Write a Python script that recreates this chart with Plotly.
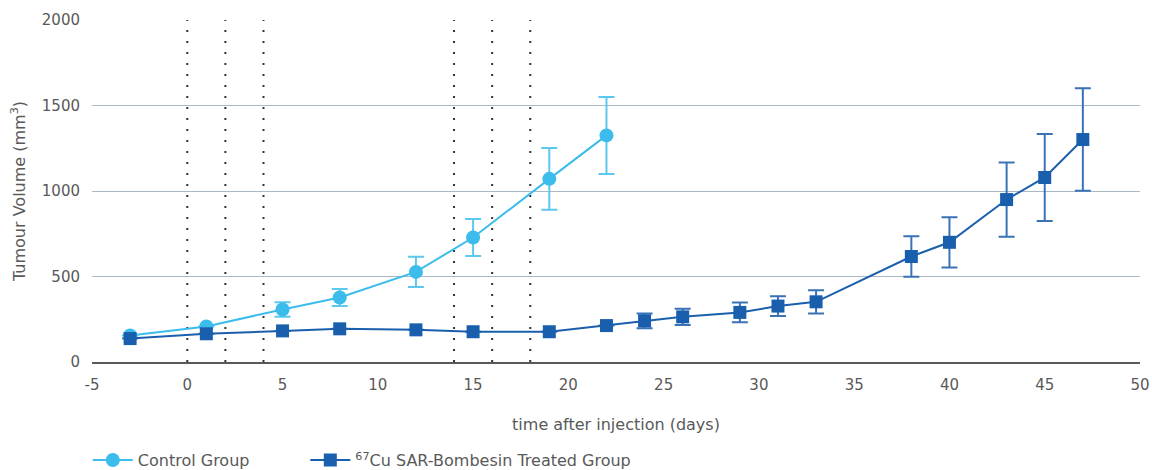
import plotly.graph_objects as go

# Control group
ctrl_days = [-3, 1, 5, 8, 12, 15, 19, 22]
ctrl_vol = [155, 208, 307, 377, 527, 728, 1071, 1325]
ctrl_err = [0, 0, 42, 50, 88, 108, 180, 225]

# 67Cu SAR-Bombesin treated group
trt_days = [-3, 1, 5, 8, 12, 15, 19, 22, 24, 26, 29, 31, 33, 38, 40, 43, 45, 47]
trt_vol = [137, 165, 182, 194, 188, 177, 177, 213, 241, 264, 290, 327, 352, 617, 700, 950, 1079, 1301]
trt_err = [0, 0, 0, 0, 0, 0, 0, 0, 43, 48, 58, 58, 68, 118, 147, 217, 255, 300]

# dosing days (dotted vertical markers)
dose_days = [0, 2, 4, 14, 16, 18]

# axis ticks
x_ticks = [-5, 0, 5, 10, 15, 20, 25, 30, 35, 40, 45, 50]
x_ticklabels = ["-5", "0", "5", "10", "15", "20", "25", "30", "35", "40", "45", "50"]

CTRL = "#3BBCEB"
TRT = "#1A5FAD"
FONT = "'DejaVu Sans', sans-serif"
GREY = "#595959"
NB = "\u00a0"

fig = go.Figure()
fig.add_trace(go.Scatter(
    x=ctrl_days, y=ctrl_vol, mode="lines+markers", name="Control Group" + NB * 10,
    line=dict(color=CTRL, width=2),
    marker=dict(symbol="circle", size=14, color=CTRL),
    error_y=dict(type="data", array=[e if e else None for e in ctrl_err], visible=True,
                 color="#5CC8EE", thickness=2, width=8),
))
fig.add_trace(go.Scatter(
    x=trt_days, y=trt_vol, mode="lines+markers", name="<sup>67</sup>Cu SAR-Bombesin Treated Group",
    line=dict(color=TRT, width=2),
    marker=dict(symbol="square", size=13, color=TRT),
    error_y=dict(type="data", array=[e if e else None for e in trt_err], visible=True,
                 color="#3A72B8", thickness=2, width=8),
))

for d in dose_days:
    fig.add_shape(type="line", xref="x", yref="y", x0=d, x1=d, y0=0, y1=2000,
                  line=dict(color="#333333", width=2, dash="2px,9px"), layer="below")

fig.update_layout(
    width=1152, height=470,
    margin=dict(l=92, r=12, t=20, b=108, autoexpand=False),
    plot_bgcolor="white", paper_bgcolor="white",
    font=dict(family=FONT, size=15, color=GREY),
    showlegend=True,
    legend=dict(orientation="h", x=-0.004, xanchor="left", xref="paper",
                y=-0.287, yanchor="middle", yref="paper",
                font=dict(size=16, color=GREY), itemwidth=40),
    xaxis=dict(range=[-5, 50], tickmode="array", tickvals=x_ticks, ticktext=x_ticklabels,
               showgrid=False, zeroline=False, showline=True,
               linecolor=GREY, linewidth=2, ticks="outside", ticklen=8, tickcolor="rgba(0,0,0,0)",
               title=dict(text="time after injection (days)", font=dict(size=16), standoff=26)),
    yaxis=dict(range=[0, 2000], tickmode="linear", tick0=0, dtick=500,
               showgrid=True, gridcolor="#A9B8C4", gridwidth=1, zeroline=False,
               showline=False, ticks="outside", ticklen=8, tickcolor="rgba(0,0,0,0)",
               title=dict(text="Tumour Volume (mm<sup>3</sup>)", font=dict(size=16), standoff=12)),
)

fig.write_html("out.html", config={"displayModeBar": False},
               post_script="document.body.style.margin='0';")
